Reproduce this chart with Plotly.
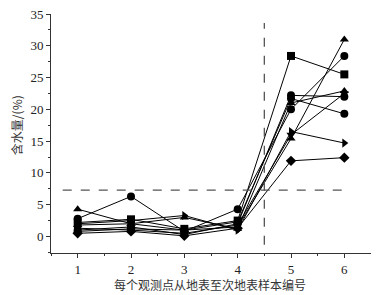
import plotly.graph_objects as go

samples = [1, 2, 3, 4, 5, 6]
series = {
    "A": [4.3, 2.0, 1.0, 1.5, 15.4, 31.0],
    "B": [2.8, 6.3, 0.8, 4.3, 20.0, 28.4],
    "C": [2.2, 2.7, 1.2, 2.5, 28.4, 25.5],
    "D": [1.8, 2.0, 3.0, 1.2, 21.0, 22.9],
    "E": [1.0, 1.5, 0.3, 2.0, 22.2, 22.0],
    "F": [0.8, 1.2, 1.0, 2.3, 21.7, 19.3],
    "G": [2.0, 2.5, 3.3, 1.0, 16.5, 14.7],
    "H": [0.5, 0.8, 0.1, 1.3, 11.9, 12.4],
    "I": [1.3, 1.0, 0.5, 1.8, 16.0, 22.5],
}
symbols = {"A": "triangle-up", "B": "circle", "C": "square", "D": "triangle-up",
           "E": "circle", "F": "circle", "G": "triangle-right", "H": "diamond",
           "I": "triangle-down"}
h_threshold = 7.3
h_span = [0.72, 6.08]
v_threshold = 4.5
v_span = [-1.3, 33.6]
x_title = "每个观测点从地表至次地表样本编号"
y_title = "含水量/(%)"

fig = go.Figure()
for k, v in series.items():
    fig.add_trace(go.Scatter(x=samples, y=v, mode="lines+markers",
                             line=dict(color="black", width=1),
                             marker=dict(symbol=symbols[k], size=8, color="black"),
                             showlegend=False))

fig.add_shape(type="line", x0=h_span[0], x1=h_span[1], y0=h_threshold, y1=h_threshold,
              line=dict(color="#555555", width=1.3, dash="dash"))
fig.add_shape(type="line", x0=v_threshold, x1=v_threshold, y0=v_span[0], y1=v_span[1],
              line=dict(color="#555555", width=1.3, dash="dash"))

cjk = dict(family="Noto Sans CJK SC", size=12, color="#333333")
fig.add_annotation(text=x_title, xref="paper", yref="paper", x=0.497, y=0,
                   xanchor="center", yanchor="middle", yshift=-31,
                   showarrow=False, font=cjk)
fig.add_annotation(text=y_title, xref="paper", yref="paper", x=0, y=0.535,
                   xanchor="center", yanchor="middle", xshift=-35, textangle=-90,
                   showarrow=False, font=cjk)

tickfont = dict(family="Liberation Serif", size=13, color="#222222")
fig.update_layout(
    width=371, height=287,
    margin=dict(l=43, r=8, t=6, b=42),
    paper_bgcolor="white", plot_bgcolor="white",
    xaxis=dict(range=[0.5, 6.5], tickmode="linear", tick0=1, dtick=1,
               showline=True, linecolor="#333333", linewidth=1,
               ticks="outside", ticklen=4, tickcolor="#333333",
               minor=dict(dtick=0.5, tick0=0.5, ticks="outside", ticklen=2, tickcolor="#333333"),
               showgrid=False, zeroline=False, tickfont=tickfont, automargin=False,
               ticklabeloverflow="allow"),
    yaxis=dict(range=[-2.6, 35], tickmode="linear", tick0=0, dtick=5,
               showline=True, linecolor="#333333", linewidth=1,
               ticks="outside", ticklen=4, tickcolor="#333333",
               minor=dict(dtick=2.5, tick0=0, ticks="outside", ticklen=2, tickcolor="#333333"),
               showgrid=False, zeroline=False, tickfont=tickfont, automargin=False,
               ticklabeloverflow="allow"),
)
fig.write_html("out.html")
